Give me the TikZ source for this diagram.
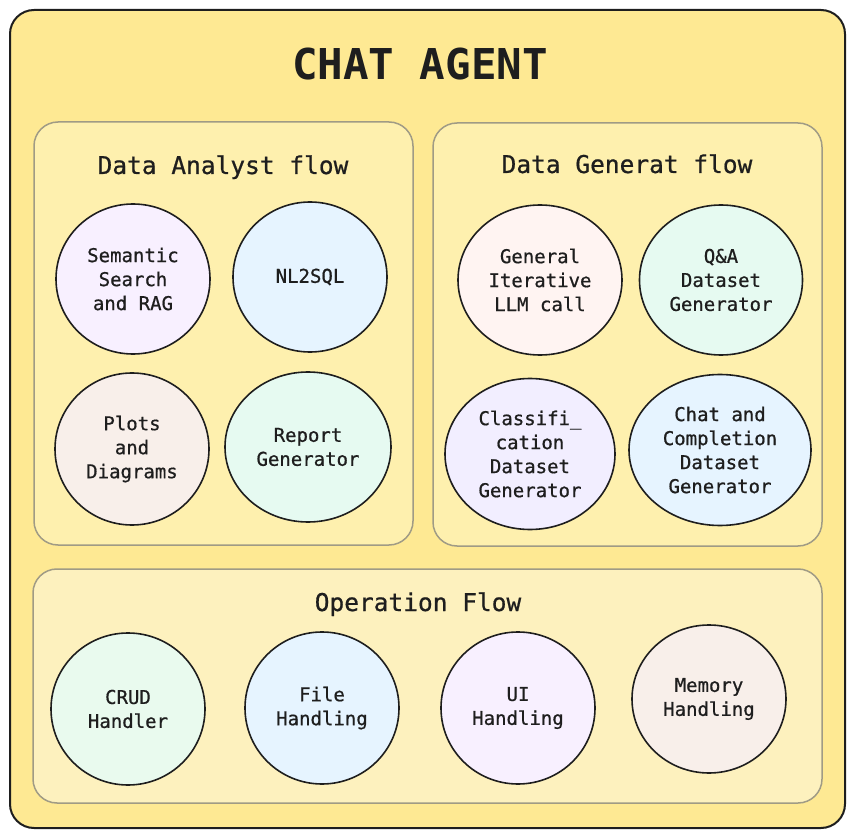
\documentclass[tikz,border=0pt]{standalone}
\usepackage{fontspec}
\setmonofont{DejaVu Sans Mono}
\newfontfamily\medmono{DejaVu Sans Mono}[FakeBold=0.7]
\usetikzlibrary{shapes.geometric}
\definecolor{outerfill}{HTML}{FEE993}
\definecolor{flowfill}{HTML}{FEF0AE}
\definecolor{opfill}{HTML}{FDF1BE}
\definecolor{flowline}{HTML}{A09B85}
\definecolor{ink}{HTML}{1E1E1E}
\definecolor{cLav}{HTML}{F8F0FF}
\definecolor{cBlue}{HTML}{E6F4FF}
\definecolor{cBeige}{HTML}{F8EFEA}
\definecolor{cMint}{HTML}{E6FAF1}
\definecolor{cRose}{HTML}{FFF4F2}
\definecolor{cViolet}{HTML}{F2EEFF}
\definecolor{cGreen}{HTML}{E9FAEE}
\tikzset{
  x=1pt,y=-1pt,
  outerbox/.style={draw=ink,line width=2pt,fill=outerfill,rounded corners=24pt},
  flowbox/.style={draw=flowline,line width=1.5pt,rounded corners=24pt},
  bubble/.style={ellipse,draw=ink,line width=1.6pt,inner sep=0pt,align=center,
    text=ink,font=\medmono\fontsize{19}{24}\selectfont},
  flowtitle/.style={text=ink,font=\medmono\fontsize{24.5}{28}\selectfont,anchor=base},
  maintitle/.style={text=ink,font=\ttfamily\bfseries\fontsize{42.5}{46}\selectfont,anchor=base}
}
\begin{document}
\begin{tikzpicture}
\useasboundingbox (0,0) rectangle (855,837);
\draw[outerbox] (10,10) rectangle (845,828);
\node[maintitle] (title) at (420,80) {CHAT AGENT};

\draw[flowbox,fill=flowfill] (34,122) rectangle (413,545);
\node[flowtitle] (datitle) at (223,174) {Data Analyst flow};
\draw[flowbox,fill=flowfill] (433,123) rectangle (822,546);
\node[flowtitle] (dgtitle) at (627,173) {Data Generat flow};
\draw[flowbox,fill=opfill] (33,569) rectangle (822,803);
\node[flowtitle] (optitle) at (418,611) {Operation Flow};

% Data Analyst flow
\node[bubble,fill=cLav,minimum width=154pt,minimum height=150pt] (sem) at (133,279) {Semantic\\Search\\and RAG};
\node[bubble,fill=cBlue,minimum width=154pt,minimum height=150pt] (nl) at (310,277) {NL2SQL};
\node[bubble,fill=cBeige,minimum width=154pt,minimum height=152pt] (plots) at (132,449) {Plots\\and\\Diagrams};
\node[bubble,fill=cMint,minimum width=166pt,minimum height=150pt] (report) at (308,447) {Report\\Generator};

% Data Generat flow
\node[bubble,fill=cRose,minimum width=164pt,minimum height=150pt] (gen) at (540,280) {General\\Iterative\\LLM call};
\node[bubble,fill=cMint,minimum width=163pt,minimum height=150pt] (qa) at (721,280) {Q\&A\\Dataset\\Generator};
\node[bubble,fill=cViolet,minimum width=170pt,minimum height=151pt] (cls) at (530,454) {Classifi\_\\cation\\Dataset\\Generator};
\node[bubble,fill=cBlue,minimum width=182pt,minimum height=151pt] (chat) at (720,450) {Chat and\\Completion\\Dataset\\Generator};

% Operation Flow
\node[bubble,fill=cGreen,minimum width=154pt,minimum height=152pt] (crud) at (128,709) {CRUD\\Handler};
\node[bubble,fill=cBlue,minimum width=154pt,minimum height=152pt] (file) at (322,708) {File\\Handling};
\node[bubble,fill=cLav,minimum width=154pt,minimum height=152pt] (ui) at (518,708) {UI\\Handling};
\node[bubble,fill=cBeige,minimum width=154pt,minimum height=148pt] (mem) at (709,699) {Memory\\Handling};
\end{tikzpicture}
\end{document}
